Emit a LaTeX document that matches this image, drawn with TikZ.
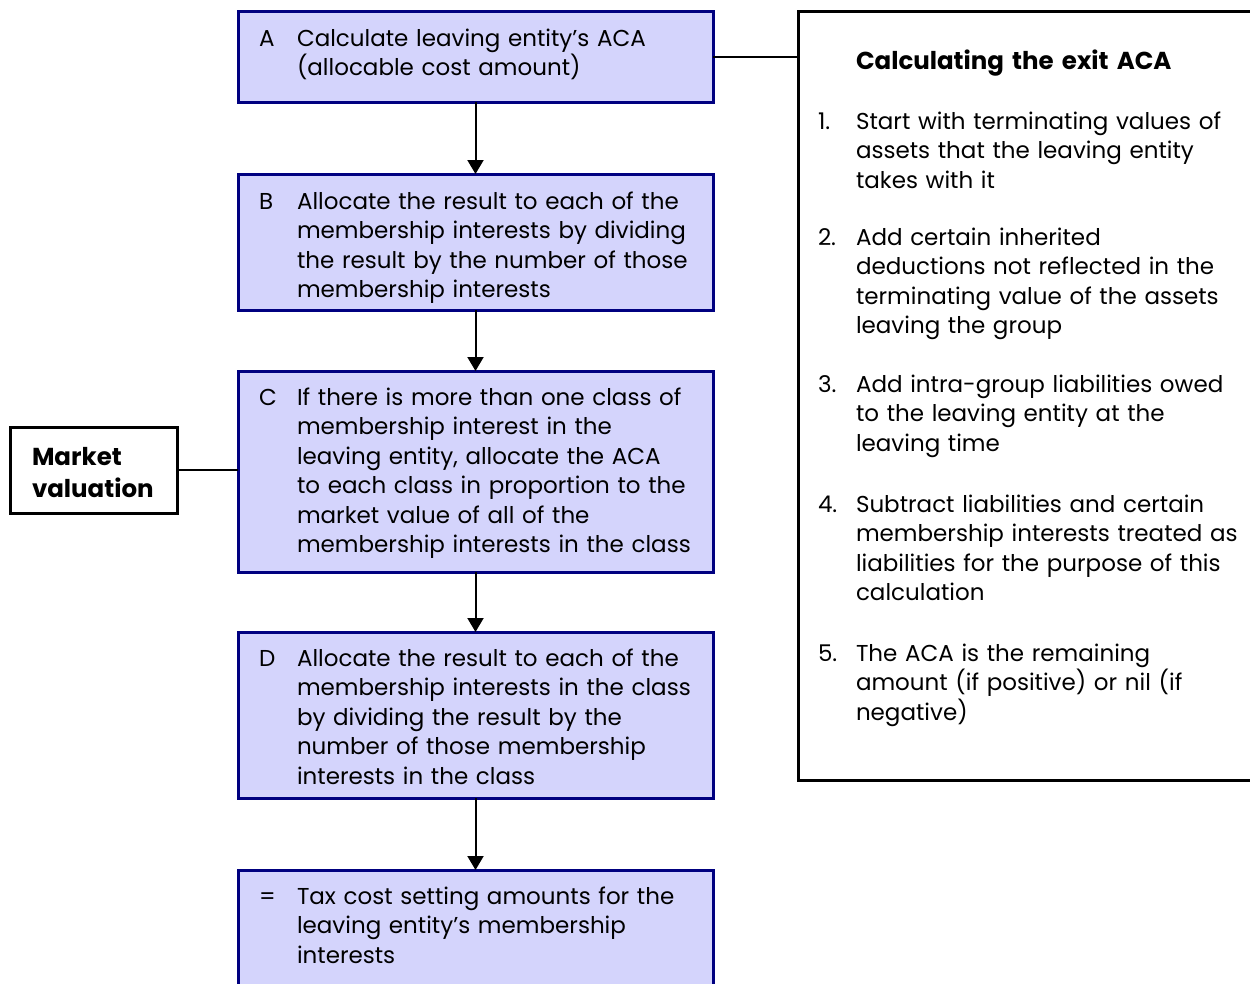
\documentclass[tikz,border=0pt]{standalone}
\usepackage{fontspec}
\setmainfont{Poppins}
\usetikzlibrary{arrows.meta}
\definecolor{boxfill}{RGB}{212,212,252}
\definecolor{navyline}{RGB}{0,0,128}
\begin{document}
\begin{tikzpicture}[x=1pt,y=-1pt,
  every node/.style={inner sep=0pt,outer sep=0pt},
  stepbox/.style={draw=navyline,line width=3pt,fill=boxfill,anchor=north west,minimum width=475pt},
  plainbox/.style={draw=black,line width=3pt,fill=white,anchor=north west},
  txt/.style={font=\fontsize{23}{29.5}\selectfont,anchor=base west,align=left,text width=440pt},
  btxt/.style={font=\fontsize{24.5}{32}\selectfont\bfseries,anchor=base west,align=left,text width=400pt},
  arr/.style={line width=2pt,-{Triangle[width=16pt,length=14pt]}},
  link/.style={line width=2pt}]
\useasboundingbox (0,0) rectangle (1250,983);
\clip (0,0) rectangle (1250,983);
% flow boxes
\node[stepbox,minimum height=91pt] (A) at (238,11) {};
\node[stepbox,minimum height=136pt] (B) at (238,174) {};
\node[stepbox,minimum height=201pt] (C) at (238,371) {};
\node[stepbox,minimum height=166pt] (D) at (238,632) {};
\node[stepbox,minimum height=140pt] (E) at (238,870) {};
% side boxes
\node[plainbox,minimum width=167pt,minimum height=86pt] (MV) at (10,427) {};
\node[plainbox,minimum width=480pt,minimum height=769pt] (P) at (798,11) {};
% connectors
\draw[arr] (A.south) -- (B.north);
\draw[arr] (B.south) -- (C.north);
\draw[arr] (C.south) -- (D.north);
\draw[arr] (D.south) -- (E.north);
\draw[link] (A.east) -- (A.east -| P.west);
\draw[link] (MV.east) -- (MV.east -| C.west);
% box texts
\node[txt] (Al) at (259,46) {A};
\node[txt] (At) at (297,46) {Calculate leaving entity’s ACA\\(allocable cost amount)};
\node[txt] (Bl) at (259,209) {B};
\node[txt] (Bt) at (297,209) {Allocate the result to each of the\\membership interests by dividing\\the result by the number of those\\membership interests};
\node[txt] (Cl) at (259,405) {C};
\node[txt] (Ct) at (297,405) {If there is more than one class of\\membership interest in the\\leaving entity, allocate the ACA\\to each class in proportion to the\\market value of all of the\\membership interests in the class};
\node[txt] (Dl) at (259,666) {D};
\node[txt] (Dt) at (297,666) {Allocate the result to each of the\\membership interests in the class\\by dividing the result by the\\number of those membership\\interests in the class};
\node[txt] (El) at (259,904) {=};
\node[txt] (Et) at (297,904) {Tax cost setting amounts for the\\leaving entity’s membership\\interests};
% market valuation
\node[btxt] (MVt) at (32,465) {Market\\valuation};
% panel
\node[btxt] (Pt) at (856,69) {Calculating the exit ACA};
\node[txt] (P1n) at (818,129) {1.};
\node[txt] (P1) at (856,129) {Start with terminating values of\\assets that the leaving entity\\takes with it};
\node[txt] (P2n) at (818,245) {2.};
\node[txt] (P2) at (856,245) {Add certain inherited\\deductions not reflected in the\\terminating value of the assets\\leaving the group};
\node[txt] (P3n) at (818,392) {3.};
\node[txt] (P3) at (856,392) {Add intra-group liabilities owed\\to the leaving entity at the\\leaving time};
\node[txt] (P4n) at (818,512) {4.};
\node[txt] (P4) at (856,512) {Subtract liabilities and certain\\membership interests treated as\\liabilities for the purpose of this\\calculation};
\node[txt] (P5n) at (818,661) {5.};
\node[txt] (P5) at (856,661) {The ACA is the remaining\\amount (if positive) or nil (if\\negative)};
\end{tikzpicture}
\end{document}
